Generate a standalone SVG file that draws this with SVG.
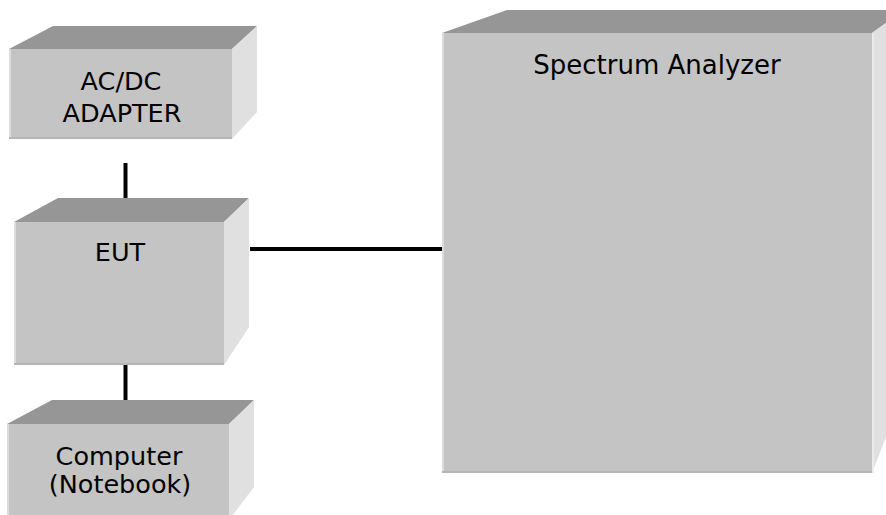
<svg xmlns="http://www.w3.org/2000/svg" width="886" height="515" viewBox="0 0 886 515">
<style>
.front{fill:#c4c4c4}
.top{fill:#969696}
.side{fill:#e0e0e0}
.hl{fill:#dcdcdc}
.sh{fill:#b4b4b4}
.lbl{font-family:"DejaVu Sans",Verdana,sans-serif;font-size:25.5px;fill:#000;text-anchor:middle}
.wire{stroke:#000;stroke-width:4;fill:none}
</style>
<rect width="886" height="515" fill="#fff"/>
<g id="connectors">
<line class="wire" x1="125.5" y1="163" x2="125.5" y2="201"/>
<line class="wire" x1="125.5" y1="364" x2="125.5" y2="402"/>
<line class="wire" x1="250" y1="249" x2="443" y2="249"/>
</g>
<g id="adapter">
<polygon class="top" points="9,49 53,26 257,26 232,49"/>
<polygon class="side" points="232,49 257,26 257,112 232,139"/>
<rect class="front" x="9" y="49" width="223" height="90"/>
<rect class="hl" x="9" y="49" width="2" height="90"/>
<rect class="sh" x="9" y="137" width="223" height="2"/>
<text class="lbl" x="121" y="90">AC/DC</text>
<text class="lbl" x="122" y="122">ADAPTER</text>
</g>
<g id="eut">
<polygon class="top" points="14,222 58,198 249,198 224,222"/>
<polygon class="side" points="224,222 249,198 249,327 224,365"/>
<rect class="front" x="14" y="222" width="210" height="143"/>
<rect class="hl" x="14" y="222" width="2" height="143"/>
<rect class="sh" x="14" y="363" width="210" height="2"/>
<text class="lbl" x="120" y="261">EUT</text>
</g>
<g id="computer">
<polygon class="top" points="7,424 52,400 254,400 229,424"/>
<polygon class="side" points="229,424 254,400 254,487 229,520"/>
<rect class="front" x="7" y="424" width="222" height="96"/>
<rect class="hl" x="7" y="424" width="2" height="96"/>
<text class="lbl" x="119" y="465">Computer</text>
<text class="lbl" x="120" y="493">(Notebook)</text>
</g>
<g id="analyzer">
<polygon class="top" points="442,33 507,10 886,10 886,23 872,33"/>
<polygon class="side" points="872,33 886,23 886,437 872,473"/>
<rect class="front" x="442" y="33" width="430" height="440"/>
<rect class="hl" x="442" y="33" width="2" height="440"/>
<rect class="sh" x="442" y="471" width="430" height="2"/>
<rect fill="#ebebeb" x="872" y="33" width="2" height="440"/>
<text class="lbl" x="657" y="74" style="font-size:26px">Spectrum Analyzer</text>
</g>
</svg>
